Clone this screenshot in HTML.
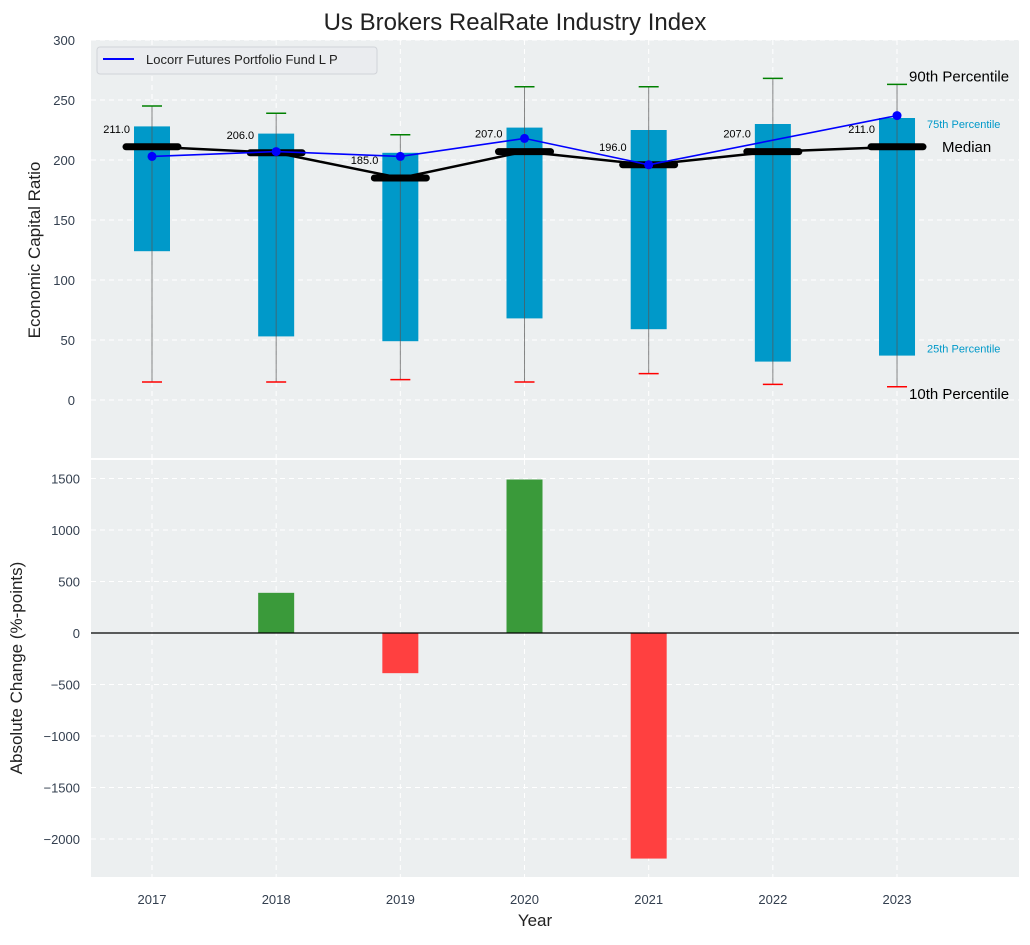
<!DOCTYPE html>
<html><head><meta charset="utf-8"><style>
body{margin:0;background:#fff;font-family:"Liberation Sans","DejaVu Sans",sans-serif;}
svg text{font-family:"Liberation Sans","DejaVu Sans",sans-serif;}
</style></head><body>
<svg id="c" width="1030" height="940" xmlns="http://www.w3.org/2000/svg"></svg>
<script>
const years=[2017,2018,2019,2020,2021,2022,2023];
const p10=[15,15,17,15,22,13,11];
const p25=[124,53,49,68,59,32,37];
const medians=[211,206,185,207,196,207,211];
const p75=[228,222,206,227,225,230,235];
const p90=[245,239,221,261,261,268,263];
const fund=[203,207,203,218,196,null,237];
const changes=[0,390,-390,1490,-2190,0,0];
const topTicks=[0,50,100,150,200,250,300];
const botTicks=[-2000,-1500,-1000,-500,0,500,1000,1500];

const NS="http://www.w3.org/2000/svg";
const svg=document.getElementById('c');
function el(tag,attrs,parent){const e=document.createElementNS(NS,tag);for(const k in attrs)e.setAttribute(k,attrs[k]);(parent||svg).appendChild(e);return e;}
const L=91,R=1019,T1=40,B1=458,T2=460,B2=877;
const xs=v=>152+(v-2017)*124.17;
const y1=v=>400-v*1.2;
const y2=v=>633-v*0.103;
const bg='#eceff0';

let r=el('rect',{x:L,y:T1,width:R-L,height:B1-T1,fill:bg});


r=el('rect',{x:L,y:T2,width:R-L,height:B2-T2,fill:bg});



// grid
years.forEach(yr=>{
  el('line',{x1:xs(yr),x2:xs(yr),y1:T1,y2:B1,stroke:'#fff','stroke-dasharray':'5,4','stroke-width':1});
  el('line',{x1:xs(yr),x2:xs(yr),y1:T2,y2:B2,stroke:'#fff','stroke-dasharray':'5,4','stroke-width':1});
});
topTicks.forEach(t=>{
  el('line',{x1:L,x2:R,y1:y1(t),y2:y1(t),stroke:'#fff','stroke-dasharray':'5,4'});
  const tx=el('text',{x:75,y:y1(t)+5,'text-anchor':'end','font-size':13,fill:'#333f4f'});tx.textContent=t;
  
  
});
botTicks.forEach(t=>{
  el('line',{x1:L,x2:R,y1:y2(t),y2:y2(t),stroke:'#fff','stroke-dasharray':'5,4'});
  const tx=el('text',{x:80,y:y2(t)+5,'text-anchor':'end','font-size':13,fill:'#333f4f'});tx.textContent=(t<0?'\u2212'+(-t):t);
  
  
});

// boxes
years.forEach((yr,i)=>{
  const x=xs(yr),w=36;
  const b=el('rect',{x:x-w/2,y:y1(p75[i]),width:w,height:y1(p25[i])-y1(p75[i]),fill:'#0099c9'});
  
  
  el('line',{x1:x,x2:x,y1:y1(p10[i]),y2:y1(p90[i]),stroke:'#555','stroke-opacity':0.7,'stroke-width':1});
  const c1=el('line',{x1:x-10,x2:x+10,y1:y1(p90[i]),y2:y1(p90[i]),stroke:'green','stroke-width':1.5});
  
  
  const c2=el('line',{x1:x-10,x2:x+10,y1:y1(p10[i]),y2:y1(p10[i]),stroke:'red','stroke-width':1.5});
  
  
});
// median line
let pts=years.map((yr,i)=>xs(yr)+','+y1(medians[i])).join(' ');
let ml=el('polyline',{points:pts,fill:'none',stroke:'#000','stroke-width':2.5});


years.forEach((yr,i)=>{
  const x=xs(yr),y=y1(medians[i]);
  const s=el('line',{x1:x-26,x2:x+26,y1:y,y2:y,stroke:'#000','stroke-width':7,'stroke-linecap':'round'});
  
  
  const t=el('text',{x:x-22,y:y-14,'text-anchor':'end','font-size':11,fill:'#000'});t.textContent=medians[i].toFixed(1);
  
  
});
// fund line
const fp=years.map((yr,i)=>fund[i]==null?null:[xs(yr),y1(fund[i])]).filter(p=>p);
let fl=el('polyline',{points:fp.map(p=>p.join(',')).join(' '),fill:'none',stroke:'#0000ff','stroke-width':1.6});


fp.forEach(p=>{const c=el('circle',{cx:p[0],cy:p[1],r:4.5,fill:'#0000ff'});
  
  });

// annotations
const last=6,ax=xs(2023);
function ann(txt,x,y,size,col,name){const t=el('text',{x:x,y:y,'font-size':size,fill:col});t.textContent=txt;
  
  }
ann('90th Percentile',ax+12,y1(p90[last])-3,15,'#000','p90-annotation');
ann('75th Percentile',ax+30,y1(p75[last])+10,11,'#0099c9','p75-annotation');
ann('Median',ax+45,y1(medians[last])+5,15,'#000','median-annotation');
ann('25th Percentile',ax+30,y1(p25[last])-3,11,'#0099c9','p25-annotation');
ann('10th Percentile',ax+12,y1(p10[last])+12,15,'#000','p10-annotation');

// legend
const lg=el('g',{});


el('rect',{x:97,y:47,width:280,height:27,rx:3,fill:'#eaecef',stroke:'#d0d3d8'},lg);
el('line',{x1:103,x2:134,y1:59,y2:59,stroke:'#0000ff','stroke-width':2},lg);
const lt=el('text',{x:146,y:64,'font-size':13,fill:'#222'},lg);lt.textContent='Locorr Futures Portfolio Fund L P';

// bottom bars
years.forEach((yr,i)=>{
  const v=changes[i];if(v===0)return;
  const yA=y2(Math.max(v,0)),yB=y2(Math.min(v,0));
  const b=el('rect',{x:xs(yr)-18,y:yA,width:36,height:yB-yA,fill:v>0?'#3a9a3a':'#ff4040'});
  
  
});
el('line',{x1:L,x2:R,y1:y2(0),y2:y2(0),stroke:'#000','stroke-width':1.2});

// x ticks
years.forEach(yr=>{const t=el('text',{x:xs(yr),y:904,'text-anchor':'middle','font-size':13,fill:'#333f4f'});t.textContent=yr;
  
  });

// titles
ann('Year',535,926,17,'#222','x-axis-title');
svg.lastChild.setAttribute('text-anchor','middle');
let t=el('text',{x:515,y:30,'text-anchor':'middle','font-size':24,fill:'#222'});t.textContent='Us Brokers RealRate Industry Index';


t=el('text',{x:0,y:0,'text-anchor':'middle','font-size':17,fill:'#222',transform:'translate(40,250) rotate(-90)'});t.textContent='Economic Capital Ratio';


t=el('text',{x:0,y:0,'text-anchor':'middle','font-size':17,fill:'#222',transform:'translate(22,668) rotate(-90)'});t.textContent='Absolute Change (%-points)';


</script>
</body></html>
